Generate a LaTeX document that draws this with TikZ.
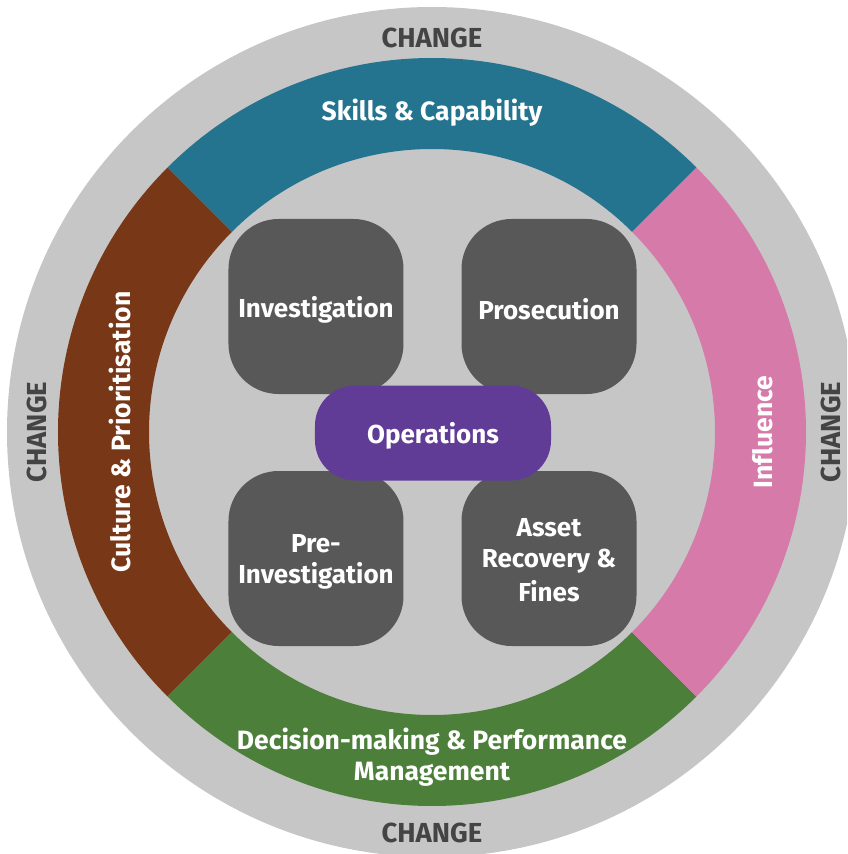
\documentclass[tikz,border=0pt]{standalone}
\usepackage{fontspec}
\setmainfont[Ligatures=NoCommon]{Fira Sans}
\definecolor{lgray}{HTML}{C6C6C6}
\definecolor{dgray}{HTML}{585858}
\definecolor{cgray}{HTML}{444444}
\definecolor{opurple}{HTML}{613C96}
\definecolor{sblue}{HTML}{24748F}
\definecolor{cbrown}{HTML}{783716}
\definecolor{ipink}{HTML}{D67AAA}
\definecolor{dgreen}{HTML}{4C7F3A}
\newcommand\lowtext[1]{\raisebox{-3pt}[\height][\depth]{#1}}
\begin{document}
\begin{tikzpicture}[x=1pt,y=1pt,
  lbl/.style={font=\fontsize{26}{31}\selectfont\bfseries, text=white, align=center, inner sep=0pt},
  rlbl/.style={font=\fontsize{26.5}{31.5}\selectfont\bfseries, text=white, align=center, inner sep=0pt},
  chg/.style={font=\fontsize{27.5}{32}\selectfont\bfseries, text=cgray, inner sep=0pt},
  opbox/.style={fill=dgray, rounded corners=50pt, minimum width=175pt, minimum height=175pt, lbl},
  centerbox/.style={fill=opurple, rounded corners=40pt, minimum width=236pt, minimum height=95pt, lbl}]
\useasboundingbox (-432,-422) rectangle (415,432);
\begin{scope}
\clip (-432,-422) rectangle (415,432);
\fill[lgray] (0,0) circle[radius=425];
\end{scope}
% ring sectors
\fill[sblue] (45:374) arc[start angle=45,end angle=135,radius=374] -- (135:283) arc[start angle=135,end angle=45,radius=283] -- cycle;
\fill[cbrown] (135:374) arc[start angle=135,end angle=225,radius=374] -- (225:283) arc[start angle=225,end angle=135,radius=283] -- cycle;
\fill[dgreen] (225:374) arc[start angle=225,end angle=315,radius=374] -- (315:283) arc[start angle=315,end angle=225,radius=283] -- cycle;
\fill[ipink] (315:374) arc[start angle=315,end angle=405,radius=374] -- (45:283) arc[start angle=45,end angle=-45,radius=283] -- cycle;
% ring labels
\node[rlbl] (skills) at (0,319) {Skills \& Capability};
\node[rlbl, rotate=90] (culture) at (-312,0) {Culture \& Prioritisation};
\node[rlbl, rotate=90] (influence) at (331,0) {Influence};
\node[rlbl] (decision) at (0,-325) {Decision-making \& Performance\\Management};
% CHANGE labels
\node[chg] (ctop) at (0,394) {CHANGE};
\node[chg] (cbot) at (0,-401) {CHANGE};
\node[chg, rotate=90] (cleft) at (-395,0) {CHANGE};
\node[chg, rotate=90] (cright) at (399,0) {CHANGE};
% operation boxes
\node[opbox] (inv) at (-116,125.5) {\lowtext{Investigation}};
\node[opbox] (pros) at (117,125.5) {\lowtext{Prosecution}};
\node[opbox] (pre) at (-116,-126.5) {\lowtext{Pre-}\\\lowtext{Investigation}};
\node[opbox] (asset) at (117,-126.5) {Asset\\Recovery \&\\\lowtext{Fines}};
\node[centerbox] (ops) at (1,-1) {\lowtext{Operations}};
\end{tikzpicture}
\end{document}
